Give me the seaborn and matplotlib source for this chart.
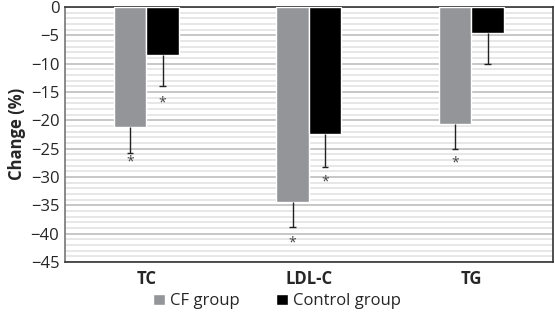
import numpy as np
import pandas as pd
import matplotlib
matplotlib.use("Agg")
import matplotlib.pyplot as plt
import seaborn as sns
from matplotlib.ticker import MultipleLocator

# data
categories = ["TC", "LDL-C", "TG"]
groups = ["CF group", "Control group"]
cf_change = [-21.2, -34.4, -20.6]
ctrl_change = [-8.5, -22.5, -4.6]
cf_err = [4.5, 4.5, 4.5]
ctrl_err = [5.5, 5.7, 5.4]
cf_star = [-27.4, -41.6, -27.6]
ctrl_star = [-16.9, -30.9, None]

sns.set_theme(style="white")
plt.rcParams["font.family"] = ["Open Sans", "DejaVu Sans"]

df = pd.DataFrame({
    "category": categories * 2,
    "group": [groups[0]] * 3 + [groups[1]] * 3,
    "change": cf_change + ctrl_change,
})

fig = plt.figure(figsize=(5.55, 3.14), dpi=100)
ax = fig.add_axes([0.117, 0.166, 0.879, 0.812])

sns.barplot(data=df, x="category", y="change", hue="group",
            palette=["#939598", "#000000"], width=0.4, errorbar=None,
            saturation=1, ax=ax, zorder=3)

# lower error bars only (cap at the lower end) and asterisks
n = len(categories)
bars = ax.patches[:2 * n]
errs = cf_err + ctrl_err
stars = cf_star + ctrl_star
vals = cf_change + ctrl_change
for bar, v, e, s in zip(bars, vals, errs, stars):
    xc = bar.get_x() + bar.get_width() / 2
    ax.vlines(xc, v - e, v, color="#222222", linewidth=1, zorder=4)
    ax.hlines(v - e, xc - 0.02, xc + 0.02, color="#222222", linewidth=1, zorder=4)
    if s is not None:
        ax.text(xc, s, "*", ha="center", va="center", fontsize=10,
                color="#444444")

ax.set_ylim(-45, 0)
ax.set_xlim(-0.5, n - 0.5)
ax.yaxis.set_minor_locator(MultipleLocator(1))
ax.grid(which="minor", axis="y", color="#e3e3e3", linewidth=1.2, zorder=0)
ax.grid(which="major", axis="y", color="#bdbdbd", linewidth=1.2, zorder=0)
ax.set_axisbelow(True)
ax.tick_params(axis="y", which="both", length=0, labelsize=12, pad=4)
ax.tick_params(axis="x", length=0, labelsize=12, pad=6)
for lbl in ax.get_xticklabels():
    lbl.set_fontweight("bold")
yt = list(range(-45, 1, 5))
ax.set_yticks(yt)
ax.set_yticklabels([("\u2212" + str(-t)) if t < 0 else "0" for t in yt])

ax.set_xlabel("")
ax.set_ylabel("Change (%)", fontsize=12, fontweight="bold", labelpad=3)
for sp in ax.spines.values():
    sp.set_visible(True)
    sp.set_color("#333333")
    sp.set_linewidth(1.2)
ax.spines["left"].set_color("#777777")

ax.legend(loc="center", bbox_to_anchor=(0.435, -0.155), ncol=2,
          frameon=False, fontsize=12, handlelength=0.7, handleheight=0.7,
          handletextpad=0.3, columnspacing=2.2, borderaxespad=0)

fig.savefig("out.png", dpi=100)
